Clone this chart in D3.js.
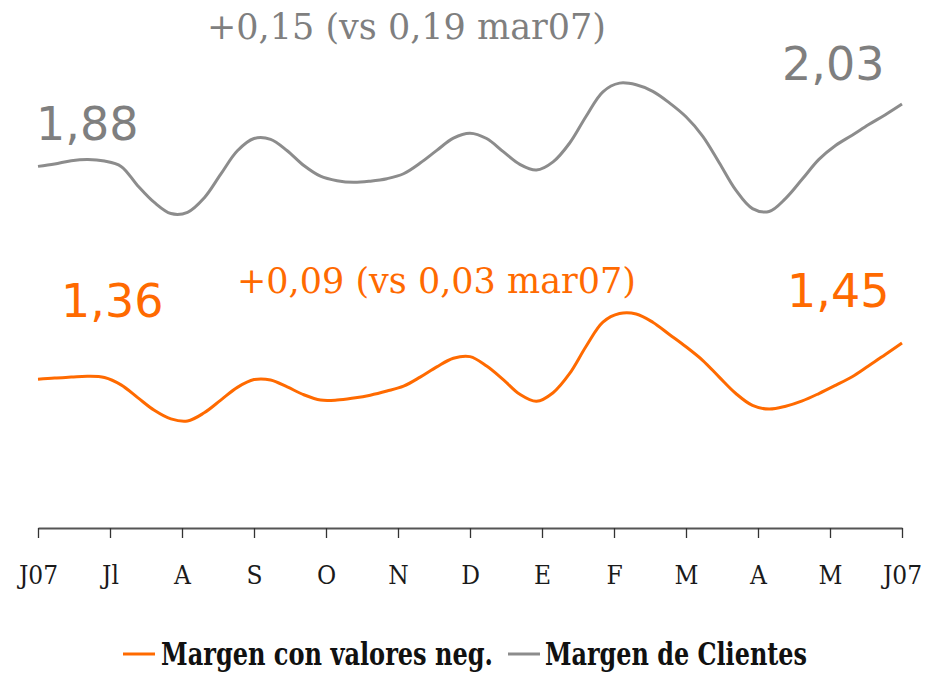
<!DOCTYPE html>
<html>
<head>
<meta charset="utf-8">
<script src="https://cdn.jsdelivr.net/npm/d3@7"></script>
<style>
  body { margin: 0; background: #fff; }
</style>
</head>
<body>
<div id="chart"></div>
<script>
// weekly values, jun07 -> jun08 (53 weeks)
const clientes = [1.882, 1.888, 1.896, 1.899, 1.895, 1.882, 1.835, 1.794, 1.767, 1.770,
  1.805, 1.863, 1.920, 1.950, 1.948, 1.920, 1.884, 1.858, 1.847, 1.843,
  1.846, 1.852, 1.864, 1.890, 1.921, 1.951, 1.963, 1.950, 1.918, 1.887,
  1.873, 1.893, 1.939, 2.005, 2.064, 2.085, 2.081, 2.065, 2.037, 2.003,
  1.956, 1.891, 1.824, 1.779, 1.772, 1.804, 1.851, 1.899, 1.933, 1.958,
  1.984, 2.008, 2.034];
const negativos = [1.363, 1.366, 1.368, 1.370, 1.367, 1.349, 1.318, 1.287, 1.266, 1.261,
  1.281, 1.312, 1.343, 1.362, 1.361, 1.344, 1.325, 1.312, 1.312, 1.317,
  1.324, 1.334, 1.346, 1.368, 1.393, 1.414, 1.418, 1.395, 1.362, 1.326,
  1.309, 1.330, 1.377, 1.444, 1.502, 1.523, 1.522, 1.502, 1.472, 1.442,
  1.409, 1.368, 1.328, 1.299, 1.290, 1.297, 1.310, 1.328, 1.348, 1.369,
  1.396, 1.423, 1.451];
const monthLabels = ["J07", "Jl", "A", "S", "O", "N", "D", "E", "F", "M", "A", "M", "J07"];
const seriesNames = ["Margen con valores neg.", "Margen de Clientes"];
const startEnd = {clientes: ["1,88", "2,03"], negativos: ["1,36", "1,45"]};
const notes = ["+0,15 (vs 0,19 mar07)", "+0,09 (vs 0,03 mar07)"];

const width = 926, height = 673;
const orange = "#ff6a00", grey = "#8c8c8c", greyText = "#7f7f7f";

const svg = d3.select("#chart").append("svg")
  .attr("width", width)
  .attr("height", height)
  .style("font-family", "'DejaVu Serif', serif");

const x = d3.scaleLinear().domain([0, clientes.length - 1]).range([38, 902]);
const xm = d3.scaleLinear().domain([0, 12]).range([38, 902]);
const y = d3.scaleLinear().domain([1, 2.2]).range([528, 36]);

const line = d3.line()
  .x((d, i) => x(i))
  .y(d => y(d))
  .curve(d3.curveCatmullRom.alpha(0.5));

svg.append("path").datum(clientes)
  .attr("d", line)
  .attr("fill", "none")
  .attr("stroke", grey)
  .attr("stroke-width", 3);

svg.append("path").datum(negativos)
  .attr("d", line)
  .attr("fill", "none")
  .attr("stroke", orange)
  .attr("stroke-width", 3);

// axis
const axis = svg.append("g")
  .attr("transform", "translate(0," + y(1) + ")")
  .call(d3.axisBottom(xm)
    .tickValues(d3.range(13))
    .tickFormat(i => monthLabels[i])
    .tickSize(10)
    .tickSizeOuter(0));
axis.select(".domain").attr("stroke", "#555").attr("stroke-width", 2);
axis.selectAll(".tick line").attr("stroke", "#333").attr("stroke-width", 1.3);
axis.selectAll(".tick text")
  .attr("y", 56)
  .attr("dy", 0)
  .attr("fill", "#1a1a1a")
  .style("font-size", "26px")
  .style("font-family", "'DejaVu Serif Condensed', 'DejaVu Serif', serif");

// start / end values
const big = (txt, px, py, col) => svg.append("text")
  .attr("x", px).attr("y", py)
  .attr("fill", col)
  .style("font-family", "'DejaVu Sans', sans-serif")
  .style("font-size", "46px")
  .text(txt);
big(startEnd.clientes[0], 36, 140, greyText);
big(startEnd.clientes[1], 782, 80, greyText);
big(startEnd.negativos[0], 61, 317, orange);
big(startEnd.negativos[1], 787, 307, orange);

// notes
svg.append("text").attr("x", 207).attr("y", 39)
  .attr("fill", greyText).style("font-size", "35px").text(notes[0]);
svg.append("text").attr("x", 237).attr("y", 293)
  .attr("fill", orange).style("font-size", "35px").text(notes[1]);

// legend
const legend = [
  {name: seriesNames[0], col: orange, x1: 123, x2: 155, tx: 161, tl: 332},
  {name: seriesNames[1], col: grey, x1: 508, x2: 540, tx: 545, tl: 262}
];
const lg = svg.append("g");
lg.selectAll("line").data(legend).enter().append("line")
  .attr("x1", d => d.x1).attr("x2", d => d.x2)
  .attr("y1", 654).attr("y2", 654)
  .attr("stroke", d => d.col).attr("stroke-width", 3);
lg.selectAll("text").data(legend).enter().append("text")
  .attr("x", d => d.tx).attr("y", 665)
  .attr("textLength", d => d.tl)
  .attr("lengthAdjust", "spacingAndGlyphs")
  .attr("fill", "#111")
  .style("font-family", "'DejaVu Serif Condensed', 'DejaVu Serif', serif")
  .style("font-weight", "bold")
  .style("font-size", "31px")
  .text(d => d.name);
</script>
</body>
</html>
